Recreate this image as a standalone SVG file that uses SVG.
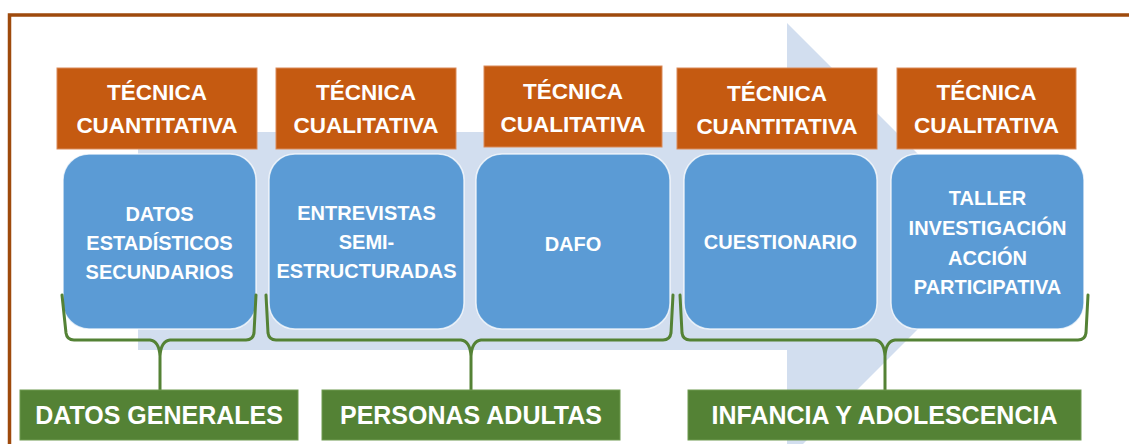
<svg xmlns="http://www.w3.org/2000/svg" width="1129" height="444" viewBox="0 0 1129 444">
<style>
.o{fill:#C55A11;stroke:#D98A5A;stroke-width:1}
.b{fill:#5B9BD5;stroke:#FFFFFF;stroke-width:1.5;stroke-opacity:.75}
.g{fill:#548235;stroke:#6E9A50;stroke-width:1}
.t{font-family:"Liberation Sans",Arial,sans-serif;font-weight:bold;fill:#FFFFFF;text-anchor:middle}
.to{font-size:22.5px}
.tb{font-size:20px}
.tg{font-size:25px}
.br{fill:none;stroke:#548235;stroke-width:3;stroke-linejoin:round;stroke-linecap:round}
</style>
<rect width="1129" height="444" fill="#FFFFFF"/>
<path d="M9.5 446 L9.5 15 L1131 15" fill="none" stroke="#9E4A0C" stroke-width="3.5"/>
<path id="arrow" d="M138 132 L787 132 L787 23 L1005.5 241.5 L787 460 L787 350 L138 350 Z" fill="#D2DEEF"/>

<g id="tec1"><rect class="o" x="57" y="68" width="200" height="81"/><text class="t to" x="157" y="100">TÉCNICA</text><text class="t to" x="157" y="133">CUANTITATIVA</text></g>
<g id="tec2"><rect class="o" x="276" y="68" width="180" height="81"/><text class="t to" x="366" y="100">TÉCNICA</text><text class="t to" x="366" y="133">CUALITATIVA</text></g>
<g id="tec3"><rect class="o" x="484" y="66" width="178" height="81"/><text class="t to" x="573" y="99">TÉCNICA</text><text class="t to" x="573" y="132">CUALITATIVA</text></g>
<g id="tec4"><rect class="o" x="677" y="68" width="200" height="81"/><text class="t to" x="777" y="101">TÉCNICA</text><text class="t to" x="777" y="134">CUANTITATIVA</text></g>
<g id="tec5"><rect class="o" x="897" y="68" width="179" height="81"/><text class="t to" x="986.5" y="100">TÉCNICA</text><text class="t to" x="986.5" y="133">CUALITATIVA</text></g>

<g id="datos"><rect class="b" x="63" y="154" width="193" height="175" rx="26"/><text class="t tb" x="159.5" y="221">DATOS</text><text class="t tb" x="159.5" y="250">ESTADÍSTICOS</text><text class="t tb" x="159.5" y="279">SECUNDARIOS</text></g>
<g id="entrevistas"><rect class="b" x="269" y="154" width="195" height="175" rx="26"/><text class="t tb" x="366.5" y="220">ENTREVISTAS</text><text class="t tb" x="366.5" y="249">SEMI-</text><text class="t tb" x="366.5" y="278">ESTRUCTURADAS</text></g>
<g id="dafo"><rect class="b" x="476" y="154" width="194" height="175" rx="26"/><text class="t tb" x="573" y="251">DAFO</text></g>
<g id="cuestionario"><rect class="b" x="684" y="154" width="193" height="175" rx="26"/><text class="t tb" x="780.5" y="249">CUESTIONARIO</text></g>
<g id="taller"><rect class="b" x="891" y="154" width="193" height="175" rx="26"/><text class="t tb" x="987.5" y="205">TALLER</text><text class="t tb" x="987.5" y="235">INVESTIGACIÓN</text><text class="t tb" x="987.5" y="265">ACCIÓN</text><text class="t tb" x="987.5" y="294">PARTICIPATIVA</text></g>

<g id="connectors">
<path class="br" d="M62 295 L66 333 Q67 340 74 340 L150 340 Q159 341 160 356 L160 390 M160 356 Q161 341 170 340 L246 340 Q253 340 254 333 L256 295"/>
<path class="br" d="M266 295 L268 333 Q269 340 276 340 L461 340 Q470 341 471 356 L471 390 M471 356 Q472 341 481 340 L663 340 Q670 340 671 333 L673 295"/>
<path class="br" d="M680 295 L682 333 Q683 340 690 340 L875 340 Q884 341 885 356 L885 390 M885 356 Q886 341 895 340 L1078 340 Q1085 340 1086 333 L1088 295"/>
</g>

<g id="generales"><rect class="g" x="20" y="390" width="278" height="50"/><text class="t tg" x="159" y="424">DATOS GENERALES</text></g>
<g id="adultas"><rect class="g" x="322" y="390" width="298" height="50"/><text class="t tg" x="471" y="424">PERSONAS ADULTAS</text></g>
<g id="infancia"><rect class="g" x="688" y="390" width="393" height="50"/><text class="t tg" x="884.5" y="424">INFANCIA Y ADOLESCENCIA</text></g>
</svg>
